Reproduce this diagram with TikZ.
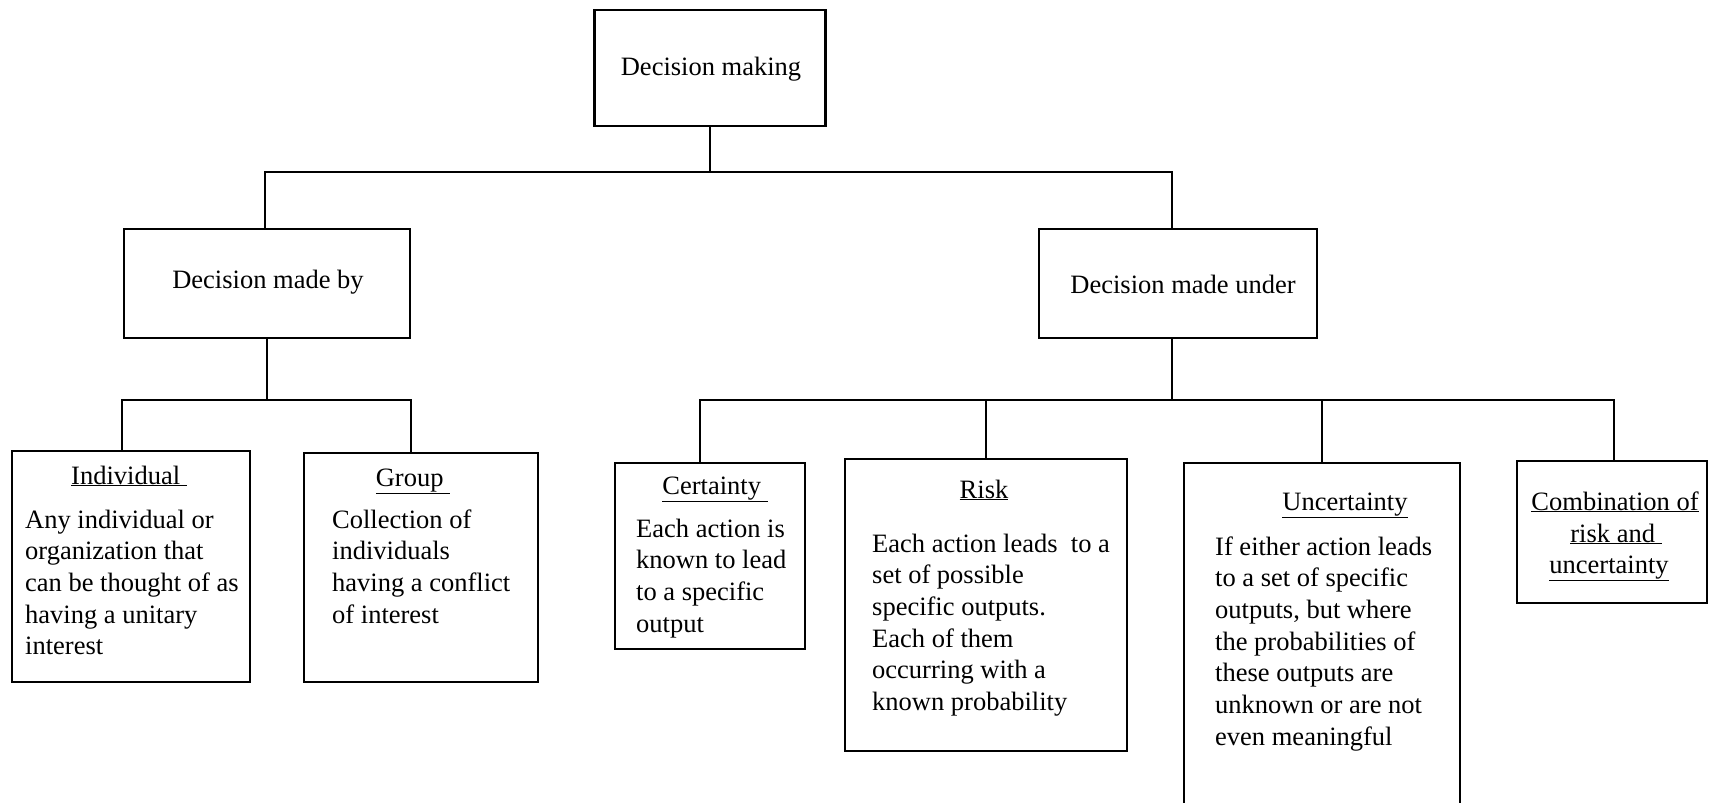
\documentclass[tikz,border=0pt]{standalone}
\usepackage{fontspec}
\setmainfont{Liberation Serif}
\begin{document}
\begin{tikzpicture}[x=1pt,y=-1pt,
  box/.style={draw, line width=2.2pt, inner sep=0pt},
  link/.style={line width=2.2pt},
  txt/.style={inner sep=0pt, font=\fontsize{26.5}{31.7}\selectfont},
  body/.style={txt, align=left, anchor=north west},
  ttl/.style={txt, anchor=base}]
\fill[white] (0,0) rectangle (1724,803);
\useasboundingbox (0,0) rectangle (1724,803);

% boxes
\node[box, minimum width=231pt, minimum height=116pt] (top)   at (710,68) {};
\node[box, minimum width=286pt, minimum height=109pt] (by)    at (267,283.5) {};
\node[box, minimum width=278pt, minimum height=109pt] (under) at (1178,283.5) {};
\node[box, minimum width=238pt, minimum height=231pt] (ind)   at (131,566.5) {};
\node[box, minimum width=234pt, minimum height=229pt] (grp)   at (421,567.5) {};
\node[box, minimum width=190pt, minimum height=186pt] (cert)  at (710,556) {};
\node[box, minimum width=282pt, minimum height=292pt] (risk)  at (986,605) {};
\node[inner sep=0pt, minimum width=276pt, minimum height=340pt] (unc) at (1322,633) {};
\draw[line width=2.2pt] (unc.south west) -- (unc.north west) -- (unc.north east) -- (unc.south east);
\node[box, minimum width=190pt, minimum height=142pt] (comb)  at (1612,532) {};

% connectors (bus levels)
\coordinate (j1) at (710,172);
\coordinate (j2) at (267,400);
\coordinate (j3) at (1172,400);
\draw[link] (top.south) -- (top.south |- j1);
\draw[link] ([xshift=-2pt]by.north) |- (j1) -| ([xshift=-6pt]under.north);
\draw[link] (by.south) -- (by.south |- j2);
\draw[link] ([xshift=-9pt]ind.north) |- (j2) -| ([xshift=-10pt]grp.north);
\draw[link] ([xshift=-6pt]under.south) -- ([xshift=-6pt]under.south |- j3);
\draw[link] ([xshift=-10pt]cert.north) |- (j3) -| ([xshift=2pt]comb.north);
\draw[link] (risk.north) -- (risk.north |- j3);
\draw[link] (unc.north) -- (unc.north |- j3);

% headings
\node[ttl] (ttop)   at (711,75)   {Decision making};
\node[ttl] (tby)    at (268,288)  {Decision made by};
\node[ttl] (tunder) at (1183,293) {Decision made under};

% titles of the leaf boxes
\node[ttl] (tind)  at (129,484)  {\underline{Individual }};
\node[ttl] (tgrp)  at (413,486)  {\underline{Group }};
\node[ttl] (tcert) at (715,494)  {\underline{Certainty }};
\node[ttl] (trisk) at (984,498)  {\underline{Risk}};
\node[ttl] (tunc)  at (1345,510) {\underline{Uncertainty}};
\node[ttl] (tc1)   at (1615,510) {\underline{Combination of}};
\node[ttl] (tc2)   at (1616,542) {\underline{risk and }};
\node[ttl] (tc3)   at (1609,573) {\underline{uncertainty}};

% descriptions
\node[body] (bind) at (25,505.8) {\strut Any individual or\\organization that\\can be thought of as\\having a unitary\\interest};
\node[body] (bgrp) at (332,505.8) {\strut Collection of\\individuals\\having a conflict\\of interest};
\node[body] (bcert) at (636,514.8) {\strut Each action is\\known to lead\\to a specific\\output};
\node[body] (brisk) at (872,529.8) {\strut Each action leads\ \ to a\\set of possible\\specific outputs.\\Each of them\\occurring with a\\known probability};
\node[body] (bunc) at (1215,532.8) {\strut If either action leads\\to a set of specific\\outputs, but where\\the probabilities of\\these outputs are\\unknown or are not\\even meaningful};
\end{tikzpicture}
\end{document}
